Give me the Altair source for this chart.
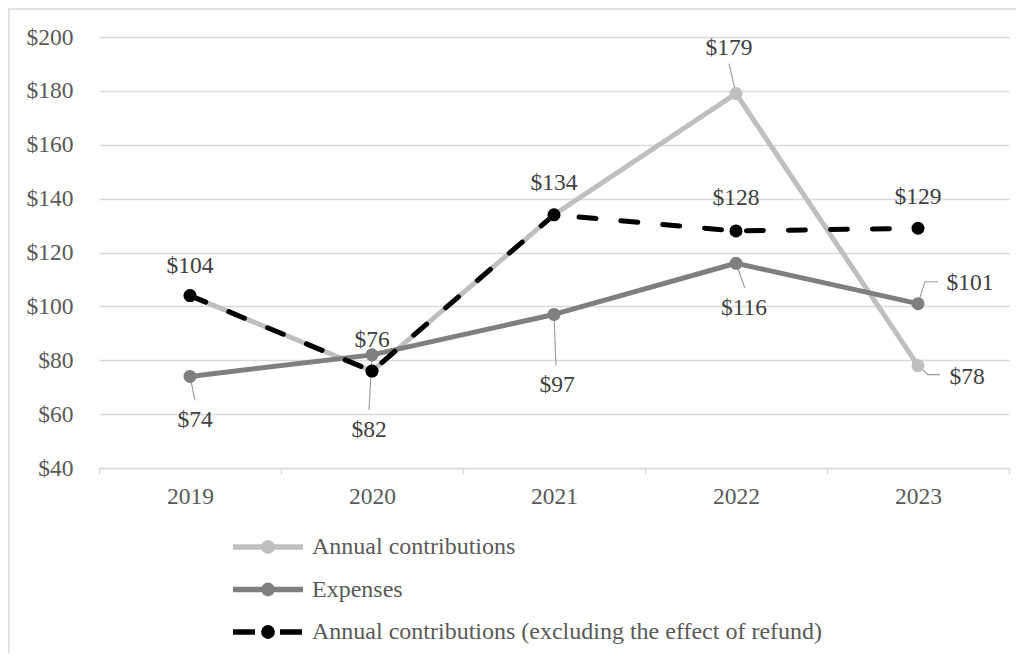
import altair as alt
import pandas as pd

# ---------------- data ----------------
years = [2019, 2020, 2021, 2022, 2023]
series_names = [
    "Annual contributions",
    "Expenses",
    "Annual contributions (excluding the effect of refund)",
]
annual_contributions = [104, 76, 134, 179, 78]
expenses = [74, 82, 97, 116, 101]
annual_contributions_excl_refund = [104, 76, 134, 128, 129]
series_values = [annual_contributions, expenses, annual_contributions_excl_refund]
series_colors = ["#bfbfbf", "#7f7f7f", "#000000"]
y_tick_values = [40, 60, 80, 100, 120, 140, 160, 180, 200]

# data labels that are shown: (series index, year index)
label_series = [2, 1, 2, 1, 2, 1, 0, 2, 1, 2, 1, 0]
label_year = [0, 0, 1, 1, 2, 2, 3, 3, 3, 4, 4, 4]

# ---------------- placement / style ----------------
W, H = 910, 431
PAD = {"left": 91, "top": 29, "right": 7, "bottom": 185}
FONT = "Liberation Serif"
FS = 23.5
LEG_FS = 24
PX_X = W / 5.0      # pixels per year
PX_Y = H / 160.0    # pixels per dollar

label_dx = [0, 5, 0, -3, 0, 3, -7, 0, 8, 0, 52, 49]
label_dy = [-30, 44, -31, 75, -32, 71, -46, -33, 45, -31, -21, 11]
leader_paths = {
    1: [(0, 0), (5, 24)],
    3: [(0, 0), (-3, 55)],
    5: [(0, 0), (2, 51)],
    6: [(0, 0), (-7, -30)],
    8: [(0, 0), (9, 25)],
    10: [(0, 0), (7, -22), (20, -22)],
    11: [(0, 0), (10, 9), (22, 9)],
}

# ---------------- tables ----------------
rows = []
for name, vals in zip(series_names, series_values):
    for yr, v in zip(years, vals):
        rows.append({"series": name, "year": yr, "value": v})
df = pd.DataFrame(rows)

lab_rows = []
lead_rows = []
for i, (si, yi) in enumerate(zip(label_series, label_year)):
    v = series_values[si][yi]
    yr = years[yi]
    lab_rows.append({
        "lx": yr + label_dx[i] / PX_X,
        "ly": v - label_dy[i] / PX_Y,
        "value": v,
    })
    if i in leader_paths:
        for k, (ox, oy) in enumerate(leader_paths[i]):
            lead_rows.append({"leader": i, "k": k,
                              "lx": yr + ox / PX_X, "ly": v - oy / PX_Y})
labels_df = pd.DataFrame(lab_rows)
leaders_df = pd.DataFrame(lead_rows)
legend_df = pd.DataFrame({"series": series_names, "row": list(range(len(series_names)))})
frame_df = pd.DataFrame({"a": [0]})

# ---------------- scales / axes ----------------
xs = alt.Scale(domain=[years[0] - 0.5, years[-1] + 0.5], nice=False, zero=False)
ys = alt.Scale(domain=[y_tick_values[0], y_tick_values[-1]], nice=False, zero=False)
boundaries = [y - 0.5 for y in years] + [years[-1] + 0.5]
x_values = sorted(years + boundaries)

xaxis = alt.Axis(
    title=None, values=x_values, grid=False,
    labelExpr="datum.value % 1 === 0 ? format(datum.value, 'd') : ''",
    labelOverlap=False, labelFlush=False,
    tickOpacity={"condition": {"test": "datum.value % 1 === 0", "value": 0}, "value": 1},
    tickSize=6, tickColor="#d9d9d9", tickWidth=1.3,
    domainColor="#d9d9d9", domainWidth=1.5,
    labelFont=FONT, labelFontSize=FS, labelColor="#595959", labelPadding=10,
)
yaxis = alt.Axis(
    title=None, values=y_tick_values, format="$,.0f", domain=False, ticks=False,
    tickSize=0, grid=True, gridColor="#d9d9d9", gridWidth=1.3,
    labelFont=FONT, labelFontSize=FS, labelColor="#595959", labelPadding=26,
)
color = alt.Color("series:N", scale=alt.Scale(domain=series_names, range=series_colors),
                  legend=None)

X = alt.X("year:Q", scale=xs, axis=xaxis)
Y = alt.Y("value:Q", scale=ys, axis=yaxis)
LX = alt.X("lx:Q", scale=xs, axis=xaxis)
LY = alt.Y("ly:Q", scale=ys, axis=yaxis)

base = alt.Chart(df)

frame = alt.Chart(frame_df).mark_rect(fill="white", fillOpacity=0, stroke="#d9d9d9",
                                      strokeWidth=1.5).encode(
    x=alt.value(-90), y=alt.value(-28), x2=alt.value(1200), y2=alt.value(1200))


def line_layer(i, dashed=False):
    kw = dict(strokeWidth=5, strokeJoin="round", strokeCap="round")
    if dashed:
        kw["strokeDash"] = [17, 25]
    return base.transform_filter(alt.datum.series == series_names[i]).mark_line(**kw).encode(
        x=X, y=Y, color=color)


def point_layer(i):
    return base.transform_filter(alt.datum.series == series_names[i]).mark_circle(
        size=170, opacity=1).encode(x=X, y=Y, color=color)


leaders = alt.Chart(leaders_df).mark_line(strokeWidth=1.1, color="#9a9a9a").encode(
    x=LX, y=LY, detail="leader:N", order="k:Q")

labels = alt.Chart(labels_df).mark_text(font=FONT, fontSize=FS, color="#404040",
                                        baseline="middle", align="center").encode(
    x=LX, y=LY, text=alt.Text("value:Q", format="$,.0f"))

main = alt.layer(
    frame,
    line_layer(0), line_layer(1), line_layer(2, dashed=True),
    leaders,
    point_layer(0), point_layer(1), point_layer(2),
    labels,
)

# ---------------- legend (drawn below the plot) ----------------
LEGY = alt.Y("row:Q", scale=alt.Scale(domain=[0, len(series_names) - 1], range=[510, 595],
                                      nice=False, zero=False), axis=None)
leg = alt.Chart(legend_df)
leg_lines = leg.mark_rule(strokeWidth=5.5, strokeCap="butt").encode(
    x=alt.value(134), x2=alt.value(204), y=LEGY, color=color,
    strokeDash=alt.condition(alt.datum.series == series_names[2],
                             alt.value([22, 25]), alt.value([1, 0])))
leg_pts = leg.mark_circle(size=190, opacity=1).encode(x=alt.value(169), y=LEGY, color=color)
leg_txt = leg.mark_text(font=FONT, fontSize=LEG_FS, color="#595959", align="left",
                        baseline="middle").encode(x=alt.value(213), y=LEGY, text="series:N")
legend = alt.layer(leg_lines, leg_pts, leg_txt)

chart = alt.layer(main, legend).resolve_scale(y="independent").properties(
    width=W, height=H, padding=PAD, autosize=alt.AutoSizeParams(type="none"),
    background="white",
).configure_view(stroke=None)

chart.save("out.html", embed_options={"renderer": "svg", "actions": False})
